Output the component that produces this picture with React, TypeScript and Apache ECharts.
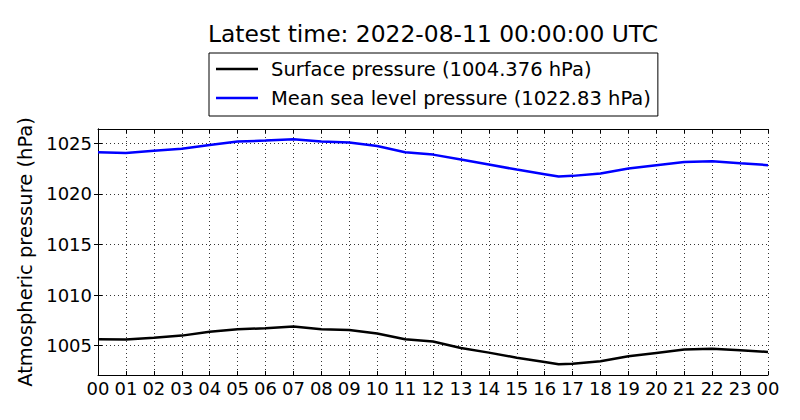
import * as echarts from "echarts";
import { useEffect, useRef } from "react";

// hours after 2022-08-10 00:00 UTC
const hours = [
  0, 1, 2, 3, 4, 5, 6, 7, 8, 9, 10, 11, 12, 13, 14, 15, 16, 16.5, 17, 18, 19,
  20, 21, 22, 23, 24,
];

const surfacePressure = [
  1005.63, 1005.6, 1005.79, 1005.99, 1006.38, 1006.62, 1006.72, 1006.88,
  1006.62, 1006.55, 1006.19, 1005.63, 1005.4, 1004.77, 1004.31, 1003.81,
  1003.39, 1003.16, 1003.22, 1003.46, 1003.95, 1004.28, 1004.61, 1004.7,
  1004.54, 1004.376,
];

const seaLevelPressure = [
  1024.11, 1024.04, 1024.24, 1024.44, 1024.83, 1025.16, 1025.26, 1025.39,
  1025.16, 1025.06, 1024.73, 1024.11, 1023.87, 1023.38, 1022.89, 1022.39,
  1021.94, 1021.7, 1021.77, 1022.0, 1022.49, 1022.83, 1023.15, 1023.22,
  1023.02, 1022.83,
];

const pressureTicks = [1005, 1010, 1015, 1020, 1025];

const SURFACE_NAME = "Surface pressure (1004.376 hPa)";
const MSL_NAME = "Mean sea level pressure (1022.83 hPa)";
const FONT = "DejaVu Sans";

const hourLabel = (v: number) => String(Math.round(v) % 24).padStart(2, "0");

function getOption() {
  const tick = { show: true, inside: true, length: 4, lineStyle: { color: "#000" } };
  const axisLine = { show: true, lineStyle: { color: "#000", width: 1 } };
  const grid = {
    show: true,
    lineStyle: { color: "#000", width: 0.8, type: [1, 3] },
  };
  return {
    animation: false,
    textStyle: { fontFamily: FONT },
    title: {
      text: "Latest time: 2022-08-11 00:00:00 UTC",
      left: 433,
      top: 22,
      padding: 0,
      textAlign: "center",
      textStyle: {
        fontFamily: FONT,
        fontSize: 23.4,
        fontWeight: "normal",
        color: "#000",
      },
    },
    legend: {
      data: [SURFACE_NAME, MSL_NAME],
      orient: "vertical",
      left: 209,
      top: 53,
      padding: [6, 7, 8, 7],
      itemGap: 9,
      itemWidth: 42,
      itemHeight: 2.5,
      icon: "rect",
      borderColor: "#000",
      borderWidth: 1,
      borderRadius: 0,
      textStyle: {
        fontFamily: FONT,
        fontSize: 19.5,
        lineHeight: 20,
        color: "#000",
        padding: [0, 0, 0, 8],
      },
    },
    grid: { left: 98, right: 32, top: 129, bottom: 45 },
    xAxis: [
      {
        type: "value",
        min: 0,
        max: 24,
        interval: 1,
        axisLine,
        axisTick: tick,
        splitLine: grid,
        axisLabel: {
          formatter: hourLabel,
          fontFamily: FONT,
          fontSize: 18,
          color: "#000",
          margin: 4,
        },
      },
      {
        type: "value",
        position: "top",
        min: 0,
        max: 24,
        interval: 1,
        axisLine,
        axisTick: tick,
        splitLine: { show: false },
        axisLabel: { show: false },
      },
    ],
    yAxis: [
      {
        type: "value",
        min: 1002.1,
        max: 1026.4,
        name: "Atmospheric pressure (hPa)",
        nameLocation: "middle",
        nameGap: 52,
        nameTextStyle: { fontFamily: FONT, fontSize: 19.5, color: "#000" },
        axisLine,
        axisTick: { ...tick, customValues: pressureTicks },
        splitLine: grid,
        axisLabel: {
          customValues: pressureTicks,
          formatter: (v: number) => String(v),
          fontFamily: FONT,
          fontSize: 18,
          color: "#000",
          margin: 6,
        },
      },
      {
        type: "value",
        position: "right",
        min: 1002.1,
        max: 1026.4,
        axisLine,
        axisTick: { ...tick, customValues: pressureTicks },
        splitLine: { show: false },
        axisLabel: { show: false, customValues: pressureTicks },
      },
    ],
    series: [
      {
        name: SURFACE_NAME,
        type: "line",
        data: hours.map((h, i) => [h, surfacePressure[i]]),
        showSymbol: false,
        symbol: "none",
        color: "#000000",
        lineStyle: { color: "#000000", width: 2.5 },
      },
      {
        name: MSL_NAME,
        type: "line",
        data: hours.map((h, i) => [h, seaLevelPressure[i]]),
        showSymbol: false,
        symbol: "none",
        color: "#0000ff",
        lineStyle: { color: "#0000ff", width: 2.5 },
      },
    ],
  };
}

export default function App() {
  const ref = useRef<HTMLDivElement>(null);

  useEffect(() => {
    if (!ref.current) return;
    const chart = echarts.init(ref.current, null, { renderer: "svg" });
    chart.setOption(getOption());
    return () => chart.dispose();
  }, []);

  return <div ref={ref} style={{ width: 800, height: 420, margin: -8 }} />;
}
